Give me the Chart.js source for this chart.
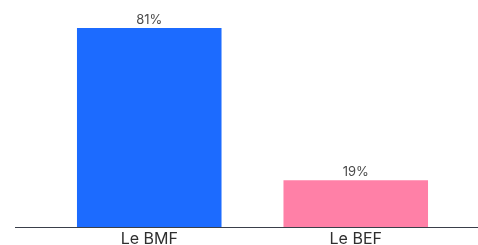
<!DOCTYPE html>
<html>
<head>
<meta charset="utf-8">
<script src="https://cdn.jsdelivr.net/npm/chart.js@4"></script>
<style>
html,body{margin:0;padding:0;background:#fff;}
#wrap{width:478px;height:245px;position:relative;}
</style>
</head>
<body>
<div id="wrap"><canvas id="c" width="478" height="245"></canvas></div>
<script>
const categories = ["Le BMF", "Le BEF"];
const values = [81, 19];
const valueLabels = ["81%", "19%"];
const barColors = ["#1c6bff", "#ff80a7"];

const baseline = {
  id: 'baseline',
  afterDatasetsDraw(chart) {
    const ctx = chart.ctx;
    const y = Math.round(chart.scales.y.getPixelForValue(0)) + 0.5;
    ctx.save();
    ctx.strokeStyle = '#3a3f4a';
    ctx.lineWidth = 1.2;
    ctx.beginPath();
    ctx.moveTo(15, y);
    ctx.lineTo(chart.width, y);
    ctx.stroke();
    ctx.restore();
  }
};

const dataLabels = {
  id: 'dataLabels',
  afterDatasetsDraw(chart) {
    const ctx = chart.ctx;
    const meta = chart.getDatasetMeta(0);
    ctx.save();
    ctx.font = '13px Inter, "Liberation Sans", sans-serif';
    ctx.fillStyle = '#4a4a4a';
    ctx.textAlign = 'center';
    ctx.textBaseline = 'bottom';
    meta.data.forEach((bar, i) => {
      ctx.fillText(valueLabels[i], bar.x, bar.y - 2);
    });
    ctx.restore();
  }
};

new Chart(document.getElementById('c'), {
  type: 'bar',
  data: {
    labels: categories,
    datasets: [{
      data: values,
      backgroundColor: barColors,
      borderWidth: 0,
      categoryPercentage: 0.7,
      barPercentage: 1.0
    }]
  },
  options: {
    responsive: false,
    animation: false,
    devicePixelRatio: 1,
    layout: { padding: { left: 46, right: 19, top: 6, bottom: -6 } },
    plugins: { legend: { display: false }, tooltip: { enabled: false } },
    scales: {
      x: {
        grid: { display: false, drawTicks: false },
        border: { display: false },
        ticks: {
          color: '#2f2f2f',
          padding: 4,
          font: { family: 'Inter, "Liberation Sans", sans-serif', size: 16, lineHeight: 1 }
        }
      },
      y: {
        display: false,
        min: 0,
        max: 90
      }
    }
  },
  plugins: [baseline, dataLabels]
});
</script>
</body>
</html>
